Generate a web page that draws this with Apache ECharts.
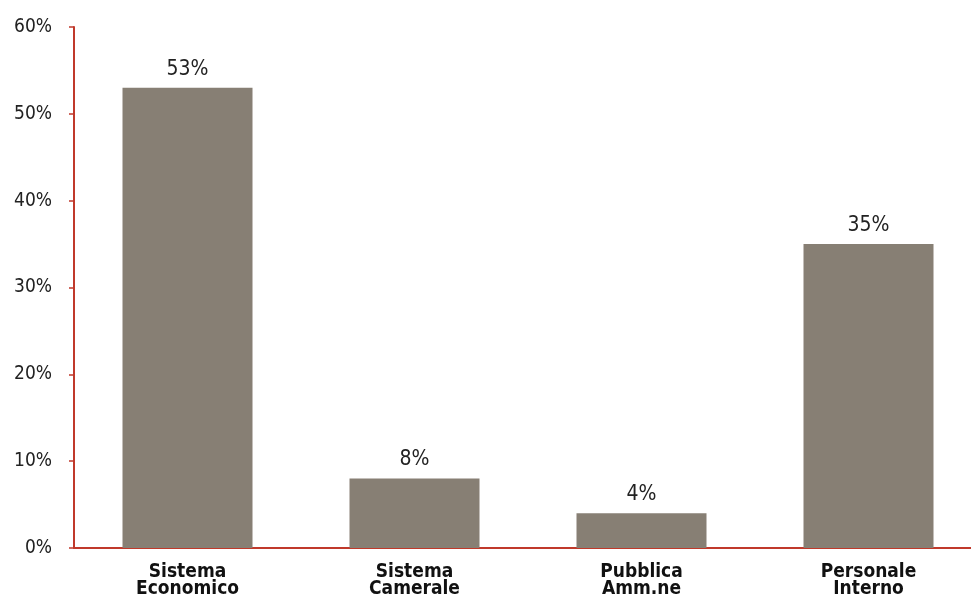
<!DOCTYPE html>
<html><head><meta charset="utf-8">
<script src="https://cdn.jsdelivr.net/npm/echarts@6/dist/echarts.min.js"></script>
<style>html,body{margin:0;padding:0;background:#fff}#c{width:971px;height:606px}</style>
</head><body><div id="c"></div>
<script>
const categories = ['Sistema\nEconomico', 'Sistema\nCamerale', 'Pubblica\nAmm.ne', 'Personale\nInterno'];
const values = [53, 8, 4, 35];
const yTicks = [0, 10, 20, 30, 40, 50, 60];
const font = '"Liberation Sans Narrow", "DejaVu Sans Condensed", "Liberation Sans", sans-serif';
const chart = echarts.init(document.getElementById('c'));
chart.setOption({
  animation: false,
  grid: { left: 74, width: 908, top: 27, bottom: 58, containLabel: false, outerBoundsMode: 'none' },
  xAxis: {
    type: 'category', data: categories,
    axisLine: { lineStyle: { color: '#c0392b', width: 2 } },
    axisTick: { show: false },
    axisLabel: { fontFamily: font, fontSize: 19, fontWeight: 'bold', color: '#111', lineHeight: 17, margin: 16 }
  },
  yAxis: {
    type: 'value', min: 0, max: 60, interval: 10,
    splitLine: { show: false },
    axisLine: { show: true, lineStyle: { color: '#c0392b', width: 2 } },
    axisTick: { show: true, length: 5, lineStyle: { color: '#c0392b', width: 1.5 } },
    axisLabel: { fontFamily: font, fontSize: 19, color: '#222', margin: 22, formatter: v => yTicks.includes(v) ? v + '%' : '' }
  },
  series: [{
    type: 'bar', data: values, barWidth: 130,
    itemStyle: { color: '#877f74' },
    label: { show: true, position: 'top', distance: 8, fontFamily: font, fontSize: 21, color: '#222', formatter: p => p.value + '%' }
  }]
});
</script></body></html>
